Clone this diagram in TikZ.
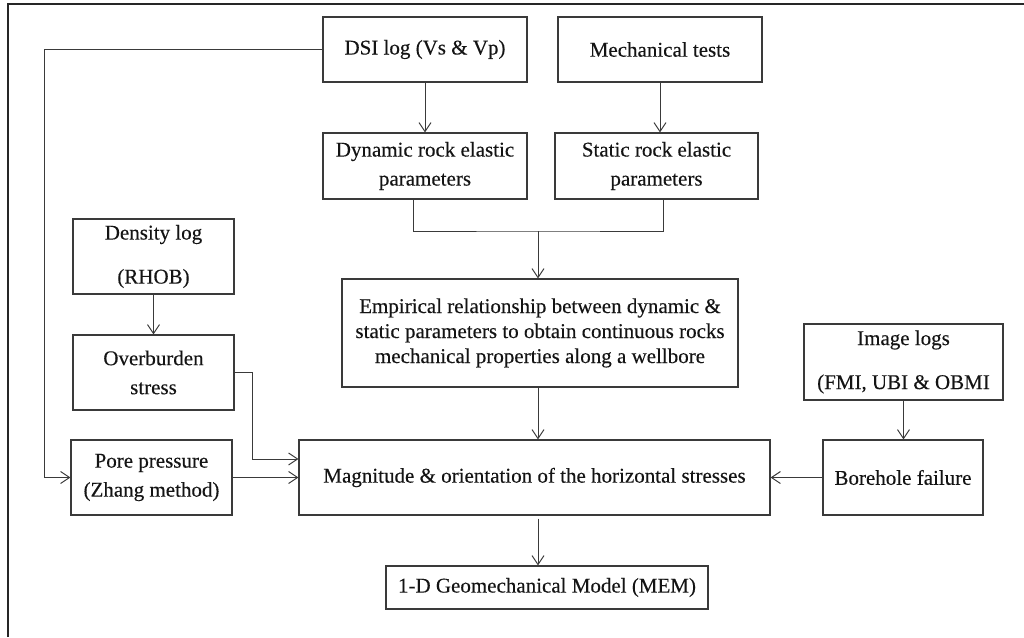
\documentclass[tikz,border=0pt]{standalone}
\usepackage{fontspec}
\setmainfont{Liberation Serif}[FakeBold=0.25]
\usepackage{xcolor}
\usetikzlibrary{arrows.meta,positioning}
\definecolor{linegray}{HTML}{3A3A3A}
\definecolor{textgray}{HTML}{141414}

\begin{document}
\begin{tikzpicture}[x=1pt, y=-1pt,
    box/.style={draw=linegray, line width=1.1pt, text=textgray, align=center,
                inner sep=0pt, font=\fontsize{21}{29}\selectfont},
    loose/.style={box, font=\fontsize{21}{44}\selectfont},
    tight/.style={box, font=\fontsize{21}{25}\selectfont},
    arr/.style={-{Straight Barb[length=9pt, width=12pt]}, draw=linegray, line width=1pt},
    link/.style={draw=linegray, line width=1pt},
    frame/.style={draw=black!85, line width=2.2pt},
  ]
    \useasboundingbox (0,0) rectangle (1024,637);
    \draw[frame] (8,637) -- (8,4) -- (1024,4);

    % logs and tests
    \node[box, minimum width=204pt, minimum height=65pt] (dsi)  at (425,49.5) {DSI log (Vs \& Vp)};
    \node[box, minimum width=204pt, minimum height=65pt] (mech) at (660,49.5) {Mechanical tests};
    \node[box, minimum width=204pt, minimum height=66pt] (dyn)  at (425,166)  {Dynamic rock elastic\\parameters};
    \node[box, minimum width=203pt, minimum height=66pt] (stat) at (656.5,166) {Static rock elastic\\parameters};

    % left column
    \node[loose, minimum width=161pt, minimum height=75pt] (dens) at (153.5,256.5) {Density log\\(RHOB)};
    \node[box,   minimum width=161pt, minimum height=75pt] (over) at (153.5,372.5) {Overburden\\stress};
    \node[box,   minimum width=161pt, minimum height=75pt] (pore) at (151.5,477.5) {Pore pressure\\(Zhang method)};

    % middle column
    \node[tight, minimum width=396pt, minimum height=108pt] (emp) at (540,333)
      {Empirical relationship between dynamic \&\\static parameters to obtain continuous rocks\\mechanical properties along a wellbore};
    \node[box, minimum width=471pt, minimum height=75pt] (mag) at (534.5,477.5)
      {Magnitude \& orientation of the horizontal stresses};
    \node[box, minimum width=322pt, minimum height=43pt] (mem) at (547,587.5)
      {1-D Geomechanical Model (MEM)};

    % right column
    \node[loose, minimum width=199pt, minimum height=76pt] (img)  at (903.5,362) {Image logs\\(FMI, UBI \& OBMI};
    \node[box,   minimum width=160pt, minimum height=75pt] (bore) at (903,477.5)  {Borehole failure};

    \coordinate (join)  at (538,231);
    \coordinate (bend)  at (44,0);
    \coordinate (obend) at (252,459);

    % connectors
    \draw[arr] (dsi) -- (dsi.south |- dyn.north);
    \draw[arr] (mech) -- (mech.south |- stat.north);
    \draw[link] ([xshift=-12pt]dyn.south) |- (join) -| ([xshift=6.5pt]stat.south);
    \draw[arr] (join) -- (join |- emp.north);
    \draw[arr] (dens) -- (dens.south |- over.north);
    \draw[arr] (dsi.west) -- (dsi.west -| bend) |- (pore.west);
    \draw[arr] (over.east) -| (obend) -- (obend -| mag.west);
    \draw[arr] (pore.east) -- (pore.east -| mag.west);
    \draw[arr] (emp.south -| join) -- (join |- mag.north);
    \draw[arr] (img.south) -- (img.south |- bore.north);
    \draw[arr] (bore.west) -- (bore.west -| mag.east);
    \draw[arr, shorten <=3pt] (mag.south -| join) -- (join |- mem.north);
\end{tikzpicture}
\end{document}
